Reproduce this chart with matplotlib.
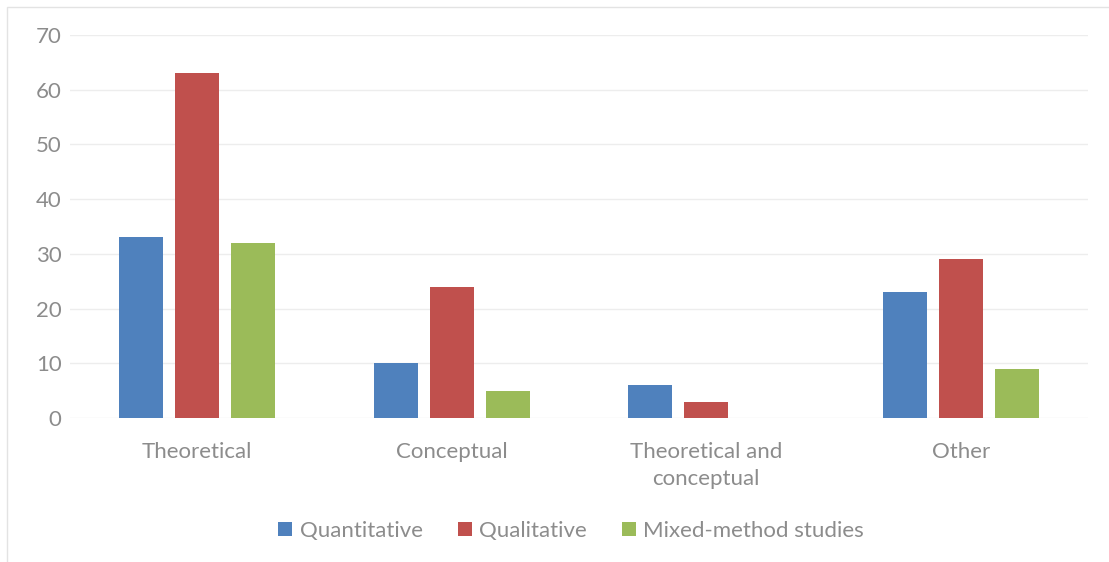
import numpy as np
import matplotlib
matplotlib.use("Agg")
import matplotlib.pyplot as plt
from matplotlib.patches import Rectangle

# data
categories = ["Theoretical", "Conceptual", "Theoretical and\nconceptual", "Other"]
quantitative = [33, 10, 6, 23]
qualitative = [63, 24, 3, 29]
mixed = [32, 5, 0, 9]
series_names = ["Quantitative", "Qualitative", "Mixed-method studies"]
colors = ["#4F81BD", "#C0504D", "#9BBB59"]

plt.rcParams['font.family'] = ['Lato', 'DejaVu Sans']
text_col = "#8C8C8C"

fig = plt.figure(figsize=(11.09, 5.62), dpi=100)
W, H = 1109, 562

# light chart-area border
fig.patches.append(Rectangle((7 / W, -0.1), 1.2, 1 - 7 / H + 0.1, transform=fig.transFigure,
                             fill=False, edgecolor="#E3E3E3", linewidth=1))

ax = fig.add_axes([70 / W, 1 - 418 / H, (1088 - 70) / W, (418 - 35) / H])

x = np.arange(len(categories))
width = 0.173
step = 0.22
for i, (vals, name, c) in enumerate(zip([quantitative, qualitative, mixed], series_names, colors)):
    ax.bar(x + (i - 1) * step, vals, width, color=c, label=name, zorder=3)

ax.set_xlim(-0.5, len(categories) - 0.5)
ax.set_ylim(0, 70)
ax.set_yticks(range(0, 71, 10))
ax.grid(axis='y', color="#EDEDED", linewidth=1, zorder=0)
for s in ax.spines.values():
    s.set_visible(False)
ax.tick_params(axis='both', length=0, labelsize=16, labelcolor=text_col)
ax.tick_params(axis='y', pad=6)
ax.tick_params(axis='x', pad=17)
ax.set_xticks(x)
ax.set_xticklabels(categories, linespacing=1.45)

leg = fig.legend(loc='center', bbox_to_anchor=(571 / W, 1 - 531 / H), ncol=3, frameon=False,
                 fontsize=16, handlelength=0.63, handleheight=0.63, handletextpad=0.32,
                 columnspacing=1.58)
for t in leg.get_texts():
    t.set_color(text_col)

fig.savefig("out.png", dpi=100)
